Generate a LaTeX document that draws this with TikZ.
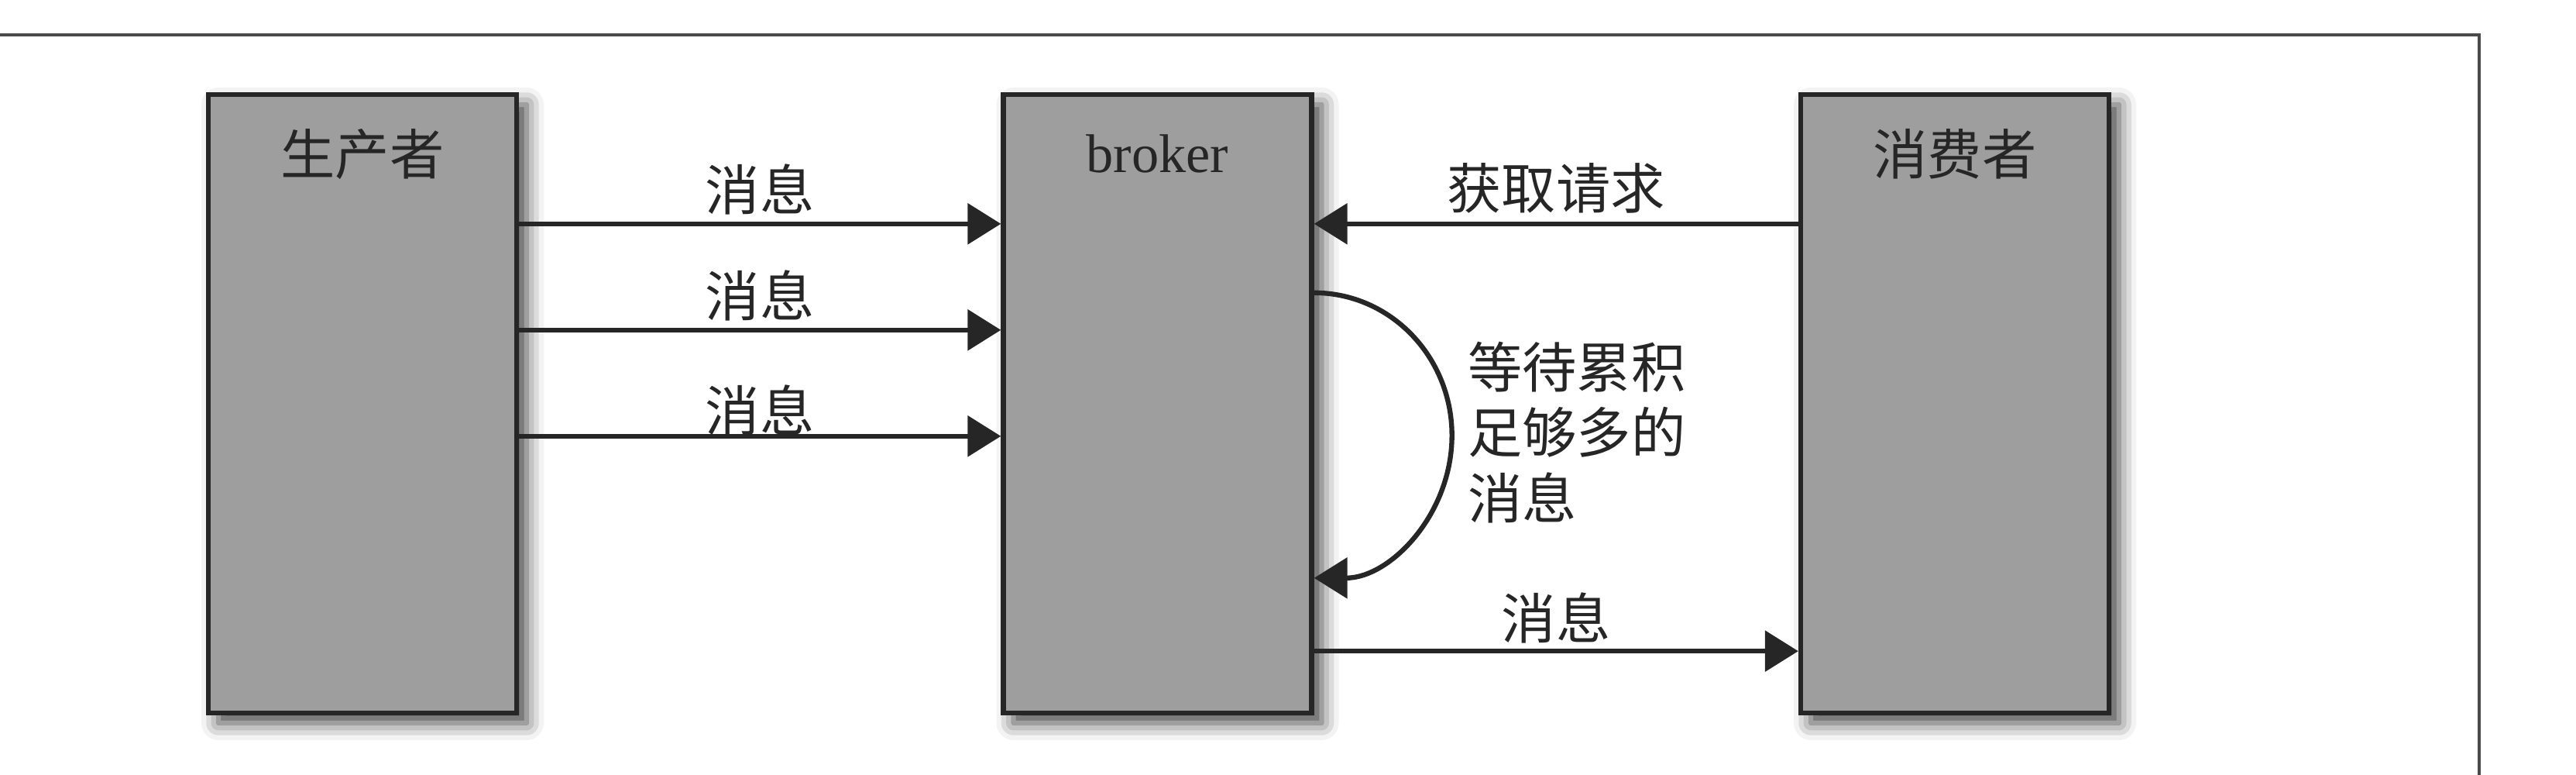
\documentclass[tikz,border=0pt]{standalone}
\usepackage{fontspec}
\setmainfont{Liberation Serif}
\newfontfamily\cjk{Noto Sans CJK SC}
\usepackage{tikz}
\usetikzlibrary{arrows.meta, positioning, calc, shadows.blur}
\definecolor{BoxGray}{HTML}{9E9E9E}
\definecolor{InkDark}{HTML}{262626}
\definecolor{FrameGray}{HTML}{4A4A4A}
\newcommand{\lblsize}{\fontsize{20pt}{24pt}\selectfont}

\begin{document}
\begin{tikzpicture}[
    box/.style={draw=InkDark, fill=BoxGray, line width=1.8pt, minimum width=3.98cm, minimum height=7.98cm, inner sep=0pt,
        blur shadow={shadow xshift=0.13cm, shadow yshift=-0.13cm, shadow blur radius=0.22cm, shadow opacity=75}},
    title/.style={anchor=center, yshift=-0.80cm, text=InkDark, font=\lblsize\cjk},
    msg/.style={draw=InkDark, line width=1.8pt, -{Triangle[length=0.43cm, width=0.52cm]}},
    lbl/.style={text=InkDark, inner sep=0pt, font=\lblsize\cjk}
]
    \useasboundingbox (0,0) rectangle (33.26,10);
    \draw[FrameGray, line width=1.1pt] (0,9.55) -- (32.01,9.55) -- (32.01,0);

    \node[box, label={[title]north:生产者}] (producer) at (4.68,4.79) {};
    \node[box, label={[title, font=\lblsize]north:broker}] (broker) at (14.945,4.79) {};
    \node[box, label={[title]north:消费者}] (consumer) at (25.24,4.79) {};

    \draw[msg] ([yshift=-1.70cm]producer.north east) -- ([yshift=-1.70cm]broker.north west) node[lbl, midway, yshift=0.44cm] {消息};
    \draw[msg] ([yshift=-3.07cm]producer.north east) -- ([yshift=-3.07cm]broker.north west) node[lbl, midway, yshift=0.44cm] {消息};
    \draw[msg] ([yshift=-4.44cm]producer.north east) -- ([yshift=-4.44cm]broker.north west) node[lbl, midway, yshift=0.33cm] {消息};

    \draw[msg] ([yshift=-1.70cm]consumer.north west) -- ([yshift=-1.70cm]broker.north east) node[lbl, midway, yshift=0.46cm] {获取请求};

    \draw[msg] ([yshift=-2.59cm]broker.north east) arc[start angle=90, end angle=-90, x radius=1.78cm, y radius=1.84cm];
    \node[lbl, anchor=west, align=left] (waitnote) at ([xshift=1.98cm, yshift=-4.39cm]broker.north east) {等待累积\\足够多的\\消息};

    \draw[msg] ([yshift=0.83cm]broker.south east) -- ([yshift=0.83cm]consumer.south west) node[lbl, midway, yshift=0.43cm] {消息};
\end{tikzpicture}
\end{document}
